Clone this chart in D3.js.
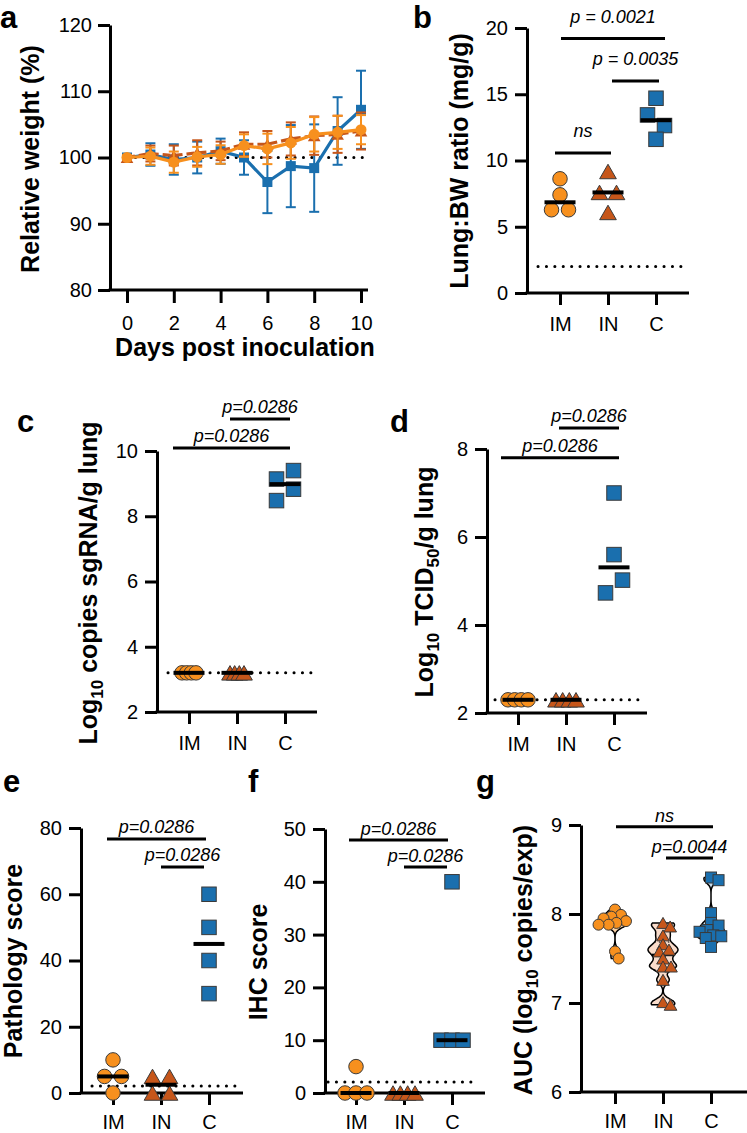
<!DOCTYPE html>
<html><head><meta charset="utf-8">
<script src="https://cdn.jsdelivr.net/npm/d3@7"></script>
<style>
body{margin:0;background:#fff;}
svg{display:block;font-family:"Liberation Sans",Arial,Helvetica,sans-serif;}
</style></head><body>
<svg id="fig" width="747" height="1133"></svg>
<script>
// ================= DATA =================
const groups = ["IM", "IN", "C"];

// (a) relative weight over time
const days = [0, 1, 2, 3, 4, 5, 6, 7, 8, 9, 10];
const dayTicks = [0, 2, 4, 6, 8, 10];
const weightTicks = [80, 90, 100, 110, 120];
const weightIM   = [100, 100.2, 99.3, 100.1, 100.45, 101.8, 101.3, 102.2, 103.5, 103.8, 104.2];
const weightIMsd = [0.3, 1.3, 1.6, 1.5, 1.4, 1.7, 2.3, 2.4, 2.6, 2.5, 2.2];
const weightIN   = [100, 100.6, 100.3, 100.7, 101.0, 102.0, 102.0, 102.8, 103.3, 103.5, 104.0];
const weightINsd = [0.3, 1.2, 1.5, 1.9, 1.4, 1.8, 2.0, 2.5, 2.9, 2.8, 2.8];
const weightC    = [100, 100.45, 99.7, 100, 100.95, 100, 96.3, 98.7, 98.4, 104.0, 107.2];
const weightCsd  = [0.2, 1.7, 2.3, 2.4, 1.9, 2.6, 4.7, 6.2, 6.6, 5.1, 5.9];
const weightBaseline = 100;

// (b) lung:body weight ratio
const lungBW_IM = [8.62, 7.41, 6.28, 6.28];
const lungBW_IN = [9.17, 7.59, 7.59, 6.08];
const lungBW_C  = [14.7, 13.44, 12.64, 11.6];
const lungBWTicks = [0, 5, 10, 15, 20];
const lungBWLimit = 2.0;
const lungBWBrackets = [
  {from: "IM", to: "C",  y: 19.2,  label: "p = 0.0021"},
  {from: "IN", to: "C",  y: 16.0,  label: "p = 0.0035"},
  {from: "IM", to: "IN", y: 10.56, label: "ns"}
];

// (c) log10 copies sgRNA / g lung
const sgRNA_IM = [3.2, 3.2, 3.2, 3.2];
const sgRNA_IN = [3.2, 3.2, 3.2, 3.2];
const sgRNA_C  = [9.14, 9.40, 8.48, 8.83];
const sgRNATicks = [2, 4, 6, 8, 10];
const sgRNALimit = 3.2;
const sgRNABrackets = [
  {from: "IN", to: "C", y: 10.98, label: "p=0.0286"},
  {from: "IM", to: "C", y: 10.09, label: "p=0.0286"}
];

// (d) log10 TCID50 / g lung
const tcid_IM = [2.3, 2.3, 2.3, 2.3];
const tcid_IN = [2.3, 2.3, 2.3, 2.3];
const tcid_C  = [7.0, 5.6, 4.73, 5.02];
const tcidTicks = [2, 4, 6, 8];
const tcidLimit = 2.3;
const tcidBrackets = [
  {from: "IN", to: "C", y: 8.48, label: "p=0.0286"},
  {from: "IM", to: "C", y: 7.80, label: "p=0.0286"}
];

// (e) pathology score
const path_IM = [10, 5, 5, 0];
const path_IN = [5, 5, 0, 0];
const path_C  = [60, 50, 40, 30];
const pathTicks = [0, 20, 40, 60, 80];
const pathLimit = 2.1;
const pathBrackets = [
  {from: "IM", to: "C", y: 76.7, label: "p=0.0286"},
  {from: "IN", to: "C", y: 68.2, label: "p=0.0286"}
];

// (f) IHC score
const ihc_IM = [5, 0, 0, 0];
const ihc_IN = [0, 0, 0, 0];
const ihc_C  = [40, 10, 10, 10];
const ihcTicks = [0, 10, 20, 30, 40, 50];
const ihcLimit = 2.1;
const ihcBrackets = [
  {from: "IM", to: "C", y: 47.9, label: "p=0.0286"},
  {from: "IN", to: "C", y: 42.8, label: "p=0.0286"}
];

// (g) AUC (log10 copies/exp)
const auc_IM = [8.05, 7.99, 7.97, 7.95, 7.92, 7.90, 7.88, 7.88, 7.58, 7.50];
const auc_IN = [7.90, 7.86, 7.76, 7.66, 7.60, 7.58, 7.50, 7.41, 7.41, 7.26, 7.01, 6.98];
const auc_C  = [8.41, 8.38, 8.01, 7.90, 7.87, 7.82, 7.80, 7.76, 7.75, 7.73, 7.63];
const aucTicks = [6, 7, 8, 9];
const aucBrackets = [
  {from: "IM", to: "C", y: 8.98, label: "ns"},
  {from: "IN", to: "C", y: 8.63, label: "p=0.0044"}
];

// ================= STYLE =================
const COL = {IM: "#f7901e", IN: "#c6561a", C: "#1a6fae"};
const VIOLIN_FILL = {IM: "#fbd2a6", IN: "#f9dccb", C: "#c6ddef"};
const SHAPE = {IM: "circle", IN: "triangle", C: "square"};
const OUTLINE = "#3a3a3a";
const TICK_FS = 20, TITLE_FS = 25, P_FS = 18, LETTER_FS = 31;
const fmt = d3.format("d");

const svg = d3.select("#fig");

function marker(g, shape, x, y, s, fill, stroke) {
  if (shape === "circle") {
    g.append("circle").attr("cx", x).attr("cy", y).attr("r", s / 2)
      .attr("fill", fill).attr("stroke", stroke || "none").attr("stroke-width", 1);
  } else if (shape === "square") {
    g.append("rect").attr("x", x - s / 2).attr("y", y - s / 2).attr("width", s).attr("height", s)
      .attr("fill", fill).attr("stroke", stroke || "none").attr("stroke-width", 1);
  } else {
    const w = s * 1.15, h = s;
    g.append("path").attr("d", `M${x},${y - h / 2}L${x + w / 2},${y + h / 2}L${x - w / 2},${y + h / 2}Z`)
      .attr("fill", fill).attr("stroke", stroke || "none").attr("stroke-width", 1).attr("stroke-linejoin", "round");
  }
}

function styleAxis(sel) {
  sel.attr("font-size", null).attr("font-family", null);
  sel.selectAll("text").attr("font-size", TICK_FS).attr("fill", "#000");
  sel.selectAll("line,path").attr("stroke", "#000").attr("stroke-width", 3);
}

function yTitle(x, y, parts) {
  const t = svg.append("text").attr("transform", `translate(${x},${y}) rotate(-90)`)
    .attr("text-anchor", "middle").attr("font-size", TITLE_FS).attr("font-weight", "bold");
  let shift = 0;
  parts.forEach(p => {
    const ts = t.append("tspan").text(p.t);
    if (p.sub) { ts.attr("font-size", 17).attr("dy", 6 - shift); shift = 6; }
    else { if (shift) ts.attr("dy", -shift); shift = 0; }
  });
}

function letter(txt, x, y) {
  svg.append("text").attr("x", x).attr("y", y).attr("font-size", LETTER_FS)
    .attr("font-weight", "bold").text(txt);
}

function dotted(g, x1, x2, y) {
  g.append("line").attr("x1", x1).attr("x2", x2).attr("y1", y).attr("y2", y)
    .attr("stroke", "#000").attr("stroke-width", 3).attr("stroke-linecap", "round")
    .attr("stroke-dasharray", "0.1,8.3");
}

// points sharing a horizontal row are spread symmetrically, in data order
function rowOffsets(vals, ys, thresh, spacing, spread) {
  const idx = vals.map((v, i) => i).sort((a, b) => vals[b] - vals[a]);
  const rows = [];
  idx.forEach(i => {
    const last = rows[rows.length - 1];
    if (last && Math.abs(ys(vals[last[0]]) - ys(vals[i])) < thresh) last.push(i);
    else rows.push([i]);
  });
  const off = vals.map(() => 0);
  rows.forEach(r => {
    r.sort((a, b) => a - b);
    const k = r.length;
    const sp = k <= 2 ? spacing : Math.min(spacing, spread / (k - 1));
    r.forEach((i, j) => off[i] = (j - (k - 1) / 2) * sp);
  });
  return off;
}

function beeswarm(vals, ys, d) {
  const order = vals.map((v, i) => i).sort((a, b) => vals[b] - vals[a]);
  const placed = [], off = [];
  order.forEach(i => {
    const yi = ys(vals[i]);
    const near = placed.filter(p => Math.abs(p.y - yi) < d);
    const cands = [0];
    near.forEach(p => { const dx = Math.sqrt(d * d - (p.y - yi) ** 2); cands.push(p.x + dx, p.x - dx); });
    cands.sort((a, b) => Math.abs(a) - Math.abs(b));
    const x = cands.find(c => near.every(p => Math.hypot(p.x - c, p.y - yi) >= d - 1e-6));
    placed.push({x, y: yi}); off[i] = x;
  });
  return off;
}

function brackets(g, list, xs, ys, pads, gap) {
  list.forEach((b, i) => {
    const x1 = xs(b.from) + pads[i][0], x2 = xs(b.to) + pads[i][1], yy = ys(b.y);
    g.append("line").attr("x1", x1).attr("x2", x2).attr("y1", yy).attr("y2", yy)
      .attr("stroke", "#000").attr("stroke-width", 3);
    g.append("text").attr("x", (x1 + x2) / 2).attr("y", yy - gap).attr("text-anchor", "middle")
      .attr("font-size", P_FS).attr("font-style", "italic").text(b.label);
  });
}

// ================= PANEL A =================
(function () {
  const g = svg.append("g");
  const x = d3.scaleLinear().domain([0, 10]).range([127, 361]);
  const y = d3.scaleLinear().domain([80, 120]).range([290, 25]);
  const ya = g.append("g").attr("transform", "translate(110,0)")
    .call(d3.axisLeft(y).tickValues(weightTicks).tickFormat(fmt).tickSize(12).tickPadding(6).tickSizeOuter(0));
  styleAxis(ya);
  const xa = g.append("g").attr("transform", "translate(0,290)")
    .call(d3.axisBottom(x).tickValues(dayTicks).tickFormat(fmt).tickSize(13).tickPadding(13));
  styleAxis(xa); xa.select(".domain").remove();
  g.append("line").attr("x1", 108.5).attr("x2", 368).attr("y1", 290).attr("y2", 290)
    .attr("stroke", "#000").attr("stroke-width", 3);
  dotted(g, x(0), 368, y(weightBaseline));

  const series = [
    {k: "C", m: weightC, sd: weightCsd, dash: null},
    {k: "IN", m: weightIN, sd: weightINsd, dash: "8,4"},
    {k: "IM", m: weightIM, sd: weightIMsd, dash: null}
  ];
  series.forEach(s => {
    const col = COL[s.k];
    days.forEach((d, i) => {
      const xx = x(d), y1 = y(s.m[i] - s.sd[i]), y2 = y(s.m[i] + s.sd[i]);
      g.append("line").attr("x1", xx).attr("x2", xx).attr("y1", y1).attr("y2", y2).attr("stroke", col).attr("stroke-width", 2);
      [y1, y2].forEach(yy => g.append("line").attr("x1", xx - 5).attr("x2", xx + 5).attr("y1", yy).attr("y2", yy)
        .attr("stroke", col).attr("stroke-width", 2));
    });
    const line = d3.line().x((d, i) => x(d)).y((d, i) => y(s.m[i]));
    g.append("path").datum(days).attr("d", line).attr("fill", "none").attr("stroke", col)
      .attr("stroke-width", 3.2).attr("stroke-dasharray", s.dash);
    days.forEach((d, i) => marker(g, SHAPE[s.k], x(d), y(s.m[i]), s.k === "C" ? 10 : 11, col, null));
  });
  yTitle(39, 159, [{t: "Relative weight (%)"}]);
  g.append("text").attr("x", 245).attr("y", 356).attr("text-anchor", "middle")
    .attr("font-size", TITLE_FS).attr("font-weight", "bold").text("Days post inoculation");
  letter("a", 0, 28);
})();

// ================= DOT PANELS =================
function dotPanel(c) {
  const g = svg.append("g");
  const y = d3.scaleLinear().domain(c.yDom).range([c.axisY, c.yTop]);
  const x = d3.scalePoint().domain(groups).range(c.cat);
  const ya = g.append("g").attr("transform", `translate(${c.axisX},0)`)
    .call(d3.axisLeft(y).tickValues(c.ticks).tickFormat(fmt).tickSize(12).tickPadding(7).tickSizeOuter(0));
  styleAxis(ya);
  const xa = g.append("g").attr("transform", `translate(0,${c.axisY})`)
    .call(d3.axisBottom(x).tickSize(12).tickPadding(c.xPad || 12));
  styleAxis(xa); xa.select(".domain").remove();
  g.append("line").attr("x1", c.axisX - 1.5).attr("x2", c.xEnd).attr("y1", c.axisY).attr("y2", c.axisY)
    .attr("stroke", "#000").attr("stroke-width", 3);
  if (c.lod != null) dotted(g, c.lodX[0], c.lodX[1], y(c.lod));

  const ms = c.ms || 14.5;
  groups.forEach((k, gi) => {
    const vals = c.data[gi];
    const cx = x(k);
    if (c.violin) {
      const lo = d3.min(vals), hi = d3.max(vals);
      const grid = d3.range(0, 81).map(i => lo + (hi - lo) * i / 80);
      const dens = grid.map(v => d3.sum(vals, u => Math.exp(-0.5 * ((v - u) / c.bw) ** 2)));
      const mx = d3.max(dens);
      const w = dens.map(dd => dd / mx * c.vHalf);
      const area = d3.area().y((v, i) => y(v)).x0((v, i) => cx - w[i]).x1((v, i) => cx + w[i]).curve(d3.curveCatmullRom);
      g.append("path").datum(grid).attr("d", area).attr("fill", VIOLIN_FILL[k]).attr("stroke", "#000").attr("stroke-width", 1.5);
      const sorted = vals.slice().sort(d3.ascending);
      const wAt = v => { const i = Math.round((v - lo) / (hi - lo) * 80); return w[Math.max(0, Math.min(80, i))]; };
      [0.25, 0.75].forEach(q => {
        const qv = d3.quantile(sorted, q);
        g.append("line").attr("x1", cx - wAt(qv)).attr("x2", cx + wAt(qv)).attr("y1", y(qv)).attr("y2", y(qv))
          .attr("stroke", "#000").attr("stroke-width", 1).attr("stroke-dasharray", "1.5,3");
      });
      const med = d3.median(vals);
      g.append("line").attr("x1", cx - wAt(med)).attr("x2", cx + wAt(med)).attr("y1", y(med)).attr("y2", y(med))
        .attr("stroke", "#000").attr("stroke-width", 2.5);
      const off = beeswarm(vals, y, c.swarmD);
      vals.forEach((v, i) => marker(g, SHAPE[k], cx + off[i], y(v), ms, COL[k], OUTLINE));
    } else {
      const off = rowOffsets(vals, y, 13.5, 17, c.spread);
      vals.forEach((v, i) => marker(g, SHAPE[k], cx + off[i], y(v), ms, COL[k], OUTLINE));
      const med = d3.median(vals);
      g.append("line").attr("x1", cx - 15.5).attr("x2", cx + 15.5).attr("y1", y(med)).attr("y2", y(med))
        .attr("stroke", "#000").attr("stroke-width", 4);
    }
  });
  brackets(g, c.brackets, x, y, c.pads, c.gap);
  yTitle(c.titleX, c.titleY, c.title);
  letter(c.letter, c.letterX, c.letterY);
}

dotPanel({axisX: 527, axisY: 293, xEnd: 689, yDom: [0, 20], yTop: 28, ticks: lungBWTicks, cat: [560, 656],
  data: [lungBW_IM, lungBW_IN, lungBW_C], lod: lungBWLimit, lodX: [538, 688], spread: 40,
  brackets: lungBWBrackets, pads: [[1, 9], [4, 3], [-5, 3]], gap: 16,
  title: [{t: "Lung:BW ratio (mg/g)"}], titleX: 468, titleY: 161, letter: "b", letterX: 413, letterY: 28});

dotPanel({axisX: 157, axisY: 712, xEnd: 317, yDom: [2, 10], yTop: 451, ticks: sgRNATicks, cat: [189, 285],
  data: [sgRNA_IM, sgRNA_IN, sgRNA_C], lod: sgRNALimit, lodX: [168, 315], spread: 14,
  brackets: sgRNABrackets, pads: [[-7, 5], [-16, 5]], gap: 6,
  title: [{t: "Log"}, {t: "10", sub: true}, {t: " copies sgRNA/g lung"}], titleX: 97, titleY: 583,
  letter: "c", letterX: 17, letterY: 432});

dotPanel({axisX: 487, axisY: 713, xEnd: 647, yDom: [2, 8], yTop: 449, ticks: tcidTicks, cat: [518, 614],
  data: [tcid_IM, tcid_IN, tcid_C], lod: tcidLimit, lodX: [495, 645], spread: 20,
  brackets: tcidBrackets, pads: [[-7, 5], [-17, 5]], gap: 5.5,
  title: [{t: "Log"}, {t: "10", sub: true}, {t: " TCID"}, {t: "50", sub: true}, {t: "/g lung"}], titleX: 433, titleY: 582,
  letter: "d", letterX: 390, letterY: 432});

dotPanel({axisX: 81, axisY: 1093, xEnd: 243, yDom: [0, 80], yTop: 828, ticks: pathTicks, cat: [113, 209],
  data: [path_IM, path_IN, path_C], lod: pathLimit, lodX: [92, 243], spread: 40, xPad: 10,
  brackets: pathBrackets, pads: [[-6, -3], [0, -5]], gap: 6,
  title: [{t: "Pathology score"}], titleX: 22, titleY: 961, letter: "e", letterX: 3, letterY: 792});

dotPanel({axisX: 325, axisY: 1093, xEnd: 485, yDom: [0, 50], yTop: 829, ticks: ihcTicks, cat: [356, 452],
  data: [ihc_IM, ihc_IN, ihc_C], lod: ihcLimit, lodX: [328, 475], spread: 22, xPad: 10,
  brackets: ihcBrackets, pads: [[-7, -4], [0, -5]], gap: 5,
  title: [{t: "IHC score"}], titleX: 267, titleY: 962, letter: "f", letterX: 248, letterY: 792});

dotPanel({axisX: 581, axisY: 1092, xEnd: 747, yDom: [6, 9], yTop: 825, ticks: aucTicks, cat: [615, 711],
  data: [auc_IM, auc_IN, auc_C], lod: null, violin: true, bw: 0.045, vHalf: 15, swarmD: 8, ms: 11, xPad: 10,
  brackets: aucBrackets, pads: [[1, 2], [3, 2]], gap: 5,
  title: [{t: "AUC (log"}, {t: "10", sub: true}, {t: " copies/exp)"}], titleX: 532, titleY: 960,
  letter: "g", letterX: 476, letterY: 792});
</script>
</body></html>
